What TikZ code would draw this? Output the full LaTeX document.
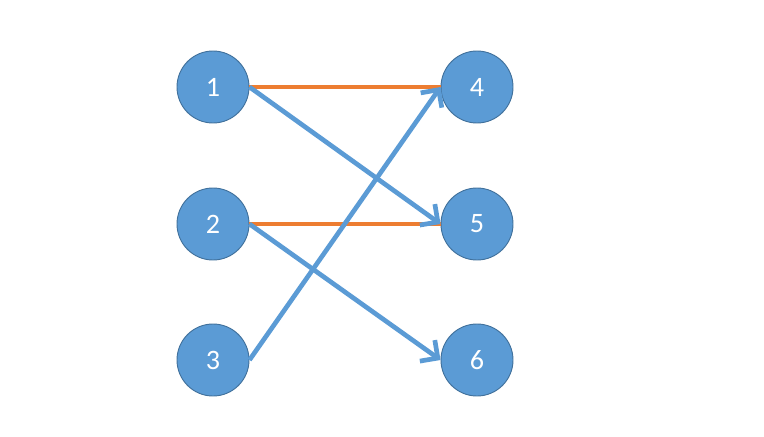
\documentclass[tikz,border=0pt]{standalone}
\usepackage{fontspec}
\setmainfont{Carlito}
\usetikzlibrary{arrows.meta}
\definecolor{nodeblue}{HTML}{5B9BD5}
\definecolor{rimblue}{HTML}{41719C}
\definecolor{matchorange}{HTML}{ED7D31}
\tikzset{
  vertex/.style={circle, fill=nodeblue, draw=rimblue, line width=0.8pt, minimum size=2.16cm, inner sep=0pt, text=white, font=\fontsize{24}{28}\selectfont},
  matched/.style={line width=4pt, matchorange},
  edge/.style={line width=4pt, nodeblue, -{Straight Barb[length=11pt, width=22pt, line width=4pt]}}
}
\begin{document}
\begin{tikzpicture}[x=0.03cm, y=0.03cm]
\useasboundingbox (0,0) rectangle (764,436);
\node[vertex] (n1) at (213,349) {1};
\node[vertex] (n2) at (213,212) {2};
\node[vertex] (n3) at (213,76) {3};
\node[vertex] (n4) at (477,349) {4};
\node[vertex] (n5) at (477,212) {5};
\node[vertex] (n6) at (477,76) {6};
\draw[matched] (n1.east) -- (n4.west);
\draw[matched] (n2.east) -- (n5.west);
\draw[edge] (n1.east) -- (n5.west);
\draw[edge] (n2.east) -- (n6.west);
\draw[edge] (n3.east) -- (n4.west);
\end{tikzpicture}
\end{document}
